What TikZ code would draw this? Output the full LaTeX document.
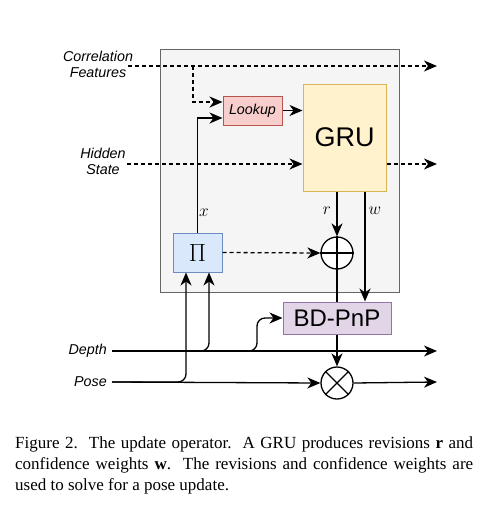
\documentclass[tikz,border=0pt]{standalone}
\usepackage{fontspec}
\setmainfont{Liberation Serif}
\setsansfont{Liberation Sans}
\usetikzlibrary{arrows.meta}
\definecolor{opfill}{HTML}{F5F5F5}
\definecolor{opdraw}{HTML}{666666}
\definecolor{lkfill}{HTML}{F8CECC}
\definecolor{lkdraw}{HTML}{B85450}
\definecolor{grufill}{HTML}{FFF2CC}
\definecolor{grudraw}{HTML}{D6B656}
\definecolor{pifill}{HTML}{DAE8FC}
\definecolor{pidraw}{HTML}{6C8EBF}
\definecolor{bdfill}{HTML}{E1D5E7}
\definecolor{bddraw}{HTML}{9673A6}
\tikzset{
  box/.style={draw, line width=1pt, inner sep=0pt},
  lab/.style={font=\sffamily\itshape\fontsize{14.3}{16}\selectfont, align=center, inner sep=0pt},
  mlab/.style={font=\fontsize{17}{18}\selectfont, inner sep=0pt},
  conn/.style={line width=1.3pt, -{Stealth[length=13pt,width=11pt,inset=4pt]}},
  dconn/.style={conn, dash pattern=on 4pt off 3pt},
  plain/.style={line width=1.3pt},
  circ/.style={draw, circle, line width=1.3pt, minimum size=32pt, inner sep=0pt, fill=white}
}
\begin{document}
\begin{tikzpicture}[x=1pt,y=-1pt]
\useasboundingbox (0,0) rectangle (500,517);
% main box
\node[box, draw=opdraw, fill=opfill, minimum width=239pt, minimum height=243pt, anchor=north west] (op) at (160,49) {};
% inner nodes
\node[box, draw=lkdraw, fill=lkfill, minimum width=59pt, minimum height=29pt, font=\sffamily\itshape\fontsize{14.3}{16}\selectfont] (lk) at (252.5,110.5) {Lookup};
\node[box, draw=grudraw, fill=grufill, minimum width=83pt, minimum height=107pt, font=\sffamily\fontsize{27}{30}\selectfont] (gru) at (344.5,137.5) {GRU};
\node[box, draw=pidraw, fill=pifill, minimum width=49pt, minimum height=39pt, font=\fontsize{27}{30}\selectfont] (pi) at (197.5,252.5) {$\Pi$};
\node[circ] (oplus) at (337,253) {};
\node[box, draw=bddraw, fill=bdfill, minimum width=108pt, minimum height=32pt, font=\sffamily\fontsize{24}{28}\selectfont] (bd) at (337,318) {BD-PnP};
\node[circ] (otimes) at (337,383) {};
\draw[plain] (oplus.north) -- (oplus.south) (oplus.west) -- (oplus.east);
\draw[plain] (otimes.north west) -- (otimes.south east) (otimes.north east) -- (otimes.south west);
% labels
\node[lab] (cf) at (98,64) {Correlation\\Features};
\node[lab] (hs) at (103,161) {Hidden\\State};
\node[lab, anchor=east] (dp) at (107,351) {Depth};
\node[lab, anchor=east] (ps) at (107,382) {Pose};
\node[mlab] (xl) at (204,213) {$x$};
\node[mlab] (rl) at (327,211) {$r$};
\node[mlab] (wl) at (375,211) {$w$};
% coordinates
\coordinate (cfin) at (128,66);
\coordinate (cfout) at (437,66);
\coordinate (cfb) at (193,66);
\coordinate (hin) at (127,164);
\coordinate (hout) at (437,164);
\coordinate (din) at (112,351);
\coordinate (dout) at (437,351);
\coordinate (pin) at (112,382);
\coordinate (pout) at (437,382);
\coordinate (dk) at (257,318);
% connectors
\draw[dconn] (cfin) -- (cfout);
\draw[dconn] (cfb) |- ([yshift=8.5pt]lk.west);
\draw[conn] (pi.north) |- ([yshift=-7.5pt]lk.west);
\draw[conn] (lk.east) -- (lk.east -| gru.west);
\draw[dconn] (hin) -- (hin -| gru.west);
\draw[dconn] (gru.east |- hin) -- (hout);
\draw[conn] (gru.south -| oplus.north) -- (oplus.north);
\draw[conn] ([xshift=20.5pt]gru.south) -- ([xshift=20.5pt]gru.south |- bd.north);
\draw[dconn] (pi.east) -- (oplus.west);
\draw[plain] (oplus.south) -- (bd.north);
\draw[conn] (bd.south) -- (otimes.north);
\draw[conn] (din) -- (dout);
\draw[conn] (pin) -- (otimes.west);
\draw[conn] (otimes.east) -- (pout);
\draw[conn, rounded corners=8pt] (pin) -| ([xshift=-11.5pt]pi.south);
\draw[conn, rounded corners=8pt] (din) -| ([xshift=11.5pt]pi.south);
\draw[conn, rounded corners=8pt] (din) -| (dk) -- (bd.west);
% caption
\node[anchor=north west, text width=458pt, align=justify, inner sep=0pt, font=\fontsize{17}{21}\selectfont] (cap) at (15,436.5) {Figure 2.\ \ The update operator.\ \ A GRU produces revisions \textbf{r} and confidence weights \textbf{w}.\ \ The revisions and confidence weights are used to solve for a pose update.};
\end{tikzpicture}
\end{document}
